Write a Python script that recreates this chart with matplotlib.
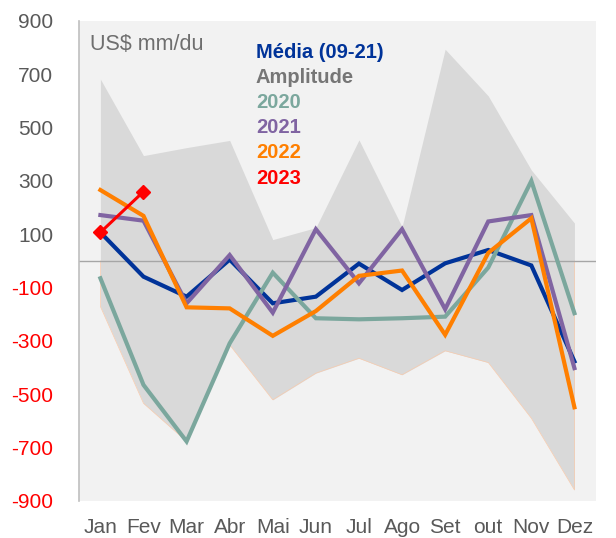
import matplotlib
matplotlib.use("Agg")
import matplotlib.pyplot as plt
import numpy as np

plt.rcParams['font.family'] = ['Liberation Sans', 'DejaVu Sans']

months = ["Jan", "Fev", "Mar", "Abr", "Mai", "Jun", "Jul", "Ago", "Set", "out", "Nov", "Dez"]
amp_upper = [682, 395, 425, 452, 80, 125, 454, 128, 794, 619, 341, 142]
amp_lower = [-171, -534, -677, -315, -521, -421, -365, -427, -337, -381, -590, -859]
media = [107, -59, -134, 5, -159, -134, -10, -109, -9, 41, -17, -377]
y2020 = [-65, -465, -677, -309, -44, -215, -219, -215, -209, -25, 300, -196]
y2021 = [172, 151, -159, 22, -194, 119, -84, 119, -181, 148, 172, -402]
y2022 = [266, 169, -174, -178, -281, -188, -56, -36, -277, 30, 160, -549]
y2023 = [107, 260]
yticks = list(range(-900, 901, 200))

fig = plt.figure(figsize=(6.16, 5.38), dpi=100)
ax = fig.add_axes([0.128, 0.069, 0.8395, 0.892])
ax.set_facecolor('#F2F2F2')

x = np.arange(len(months))
ax.fill_between(x, amp_lower, amp_upper, color='#D9D9D9', linewidth=0, zorder=1)
edge_x = np.concatenate([[0], x, [len(months) - 1]])
edge_y = np.concatenate([[0], amp_lower, [0]])
ax.plot(edge_x, edge_y, color='#F8CBAD', linewidth=0.5, zorder=2)
ax.axhline(0, color='#A6A6A6', linewidth=1.0, zorder=2)

ax.plot(x, media, color='#003399', linewidth=3.0, zorder=3, solid_joinstyle='miter')
ax.plot(x, y2020, color='#7BA79D', linewidth=3.0, zorder=4, solid_joinstyle='miter')
ax.plot(x, y2021, color='#8064A2', linewidth=3.0, zorder=5, solid_joinstyle='miter')
ax.plot(x, y2022, color='#FF7F00', linewidth=3.0, zorder=6, solid_joinstyle='miter')
ax.plot(x[:len(y2023)], y2023, color='#FF0000', linewidth=2.2, marker='D',
        markersize=7, zorder=7)

ax.set_xlim(-0.5, len(months) - 0.5)
ax.set_ylim(-900, 900)
ax.set_yticks(yticks)
ax.set_yticklabels([str(v) for v in yticks], fontsize=15)
for lbl, v in zip(ax.get_yticklabels(), yticks):
    lbl.set_color('#FF0000' if v < 0 else '#595959')
ax.set_xticks(x)
ax.set_xticklabels(months, fontsize=15, color='#595959')
ax.tick_params(axis='both', length=0)
ax.tick_params(axis='y', pad=18.5)
ax.tick_params(axis='x', pad=12)

for s in ['top', 'right', 'bottom']:
    ax.spines[s].set_visible(False)
ax.spines['left'].set_color('#BFBFBF')
ax.spines['left'].set_linewidth(1.2)

fig.text(90 / 616, 1 - 45 / 538, "US$ mm/du", fontsize=15.5, color='#6E6E6E',
         va='center', ha='left')

legend_items = [("Média (09-21)", '#003399'), ("Amplitude", '#767676'),
                ("2020", '#7BA79D'), ("2021", '#8064A2'),
                ("2022", '#FF7F00'), ("2023", '#FF0000')]
for i, (t, c) in enumerate(legend_items):
    fig.text(256 / 616, 1 - (52 + 25.2 * i) / 538, t, fontsize=14.5, fontweight='bold',
             color=c, va='center', ha='left')

fig.savefig("out.png", dpi=100, facecolor='white')
